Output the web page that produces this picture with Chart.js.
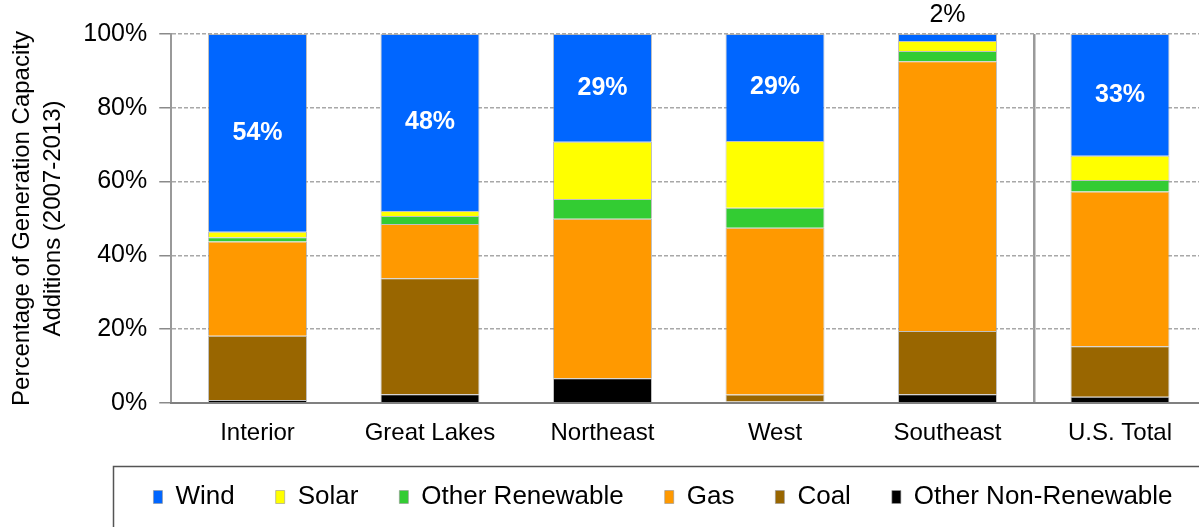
<!DOCTYPE html>
<html>
<head>
<meta charset="utf-8">
<script src="https://cdn.jsdelivr.net/npm/chart.js@4.4.1/dist/chart.umd.min.js"></script>
<style>
  html, body { margin: 0; padding: 0; background: #ffffff; overflow: hidden; width: 1199px; height: 527px; }
  #wrap { position: absolute; left: 0; top: 0; width: 1330px; height: 527px; }
</style>
</head>
<body>
<div id="wrap"><canvas id="c" width="1330" height="527"></canvas></div>
<script>
// ---- Data (percent of generation capacity additions, 2007-2013) ----
const categories = ['Interior', 'Great Lakes', 'Northeast', 'West', 'Southeast', 'U.S. Total'];
const otherNonRenewable = [0.8, 2.4, 6.7, 0.4, 2.4, 1.7];
const coal              = [17.4, 31.4, 0.0, 1.9, 17.1, 13.7];
const gas               = [25.6, 14.7, 43.2, 45.2, 73.1, 41.9];
const otherRenewable    = [1.1, 2.2, 5.4, 5.4, 2.8, 3.1];
const solar             = [1.5, 1.3, 15.5, 18.1, 2.7, 6.6];
const wind              = [53.6, 48.0, 29.2, 29.0, 1.9, 33.0];
const yTickValues       = [0, 20, 40, 60, 80, 100];
const yTitle = ['Percentage of Generation Capacity', 'Additions (2007-2013)'];

const FONT = "'Liberation Sans', Arial, Helvetica, sans-serif";

const windLabelPlugin = {
  id: 'windLabels',
  afterDatasetsDraw(chart) {
    const idx = chart.data.datasets.findIndex(d => d.label === 'Wind');
    const meta = chart.getDatasetMeta(idx);
    const ctx = chart.ctx;
    ctx.save();
    ctx.textAlign = 'center';
    ctx.textBaseline = 'middle';
    meta.data.forEach((bar, i) => {
      const v = chart.data.datasets[idx].data[i];
      const txt = Math.round(v) + '%';
      const h = Math.abs(bar.base - bar.y);
      if (h > 40) {
        ctx.fillStyle = '#ffffff';
        ctx.font = 'bold 25px ' + FONT;
        ctx.fillText(txt, bar.x, (bar.y + bar.base) / 2);
      } else {
        ctx.fillStyle = '#000000';
        ctx.font = '25px ' + FONT;
        ctx.fillText(txt, bar.x, bar.y - 19);
      }
    });
    ctx.restore();
  }
};

const legendFramePlugin = {
  id: 'legendFrame',
  afterDraw(chart) {
    const ctx = chart.ctx;
    const lg = chart.legend;
    ctx.save();
    ctx.strokeStyle = '#555555';
    ctx.lineWidth = 1.5;
    ctx.strokeRect(113.5, lg.top + 23.5, 1400, 200);
    ctx.restore();
  }
};

const datasets = [
  { label: 'Other Non-Renewable', data: otherNonRenewable, backgroundColor: '#000000' },
  { label: 'Coal', data: coal, backgroundColor: '#996600' },
  { label: 'Gas', data: gas, backgroundColor: '#FF9900' },
  { label: 'Other Renewable', data: otherRenewable, backgroundColor: '#33CC33' },
  { label: 'Solar', data: solar, backgroundColor: '#FFFF00' },
  { label: 'Wind', data: wind, backgroundColor: '#0066FF' }
].map(d => Object.assign(d, {
  borderColor: 'rgba(150,150,150,0.6)',
  borderWidth: 1,
  barPercentage: 0.574,
  categoryPercentage: 1.0
}));

new Chart(document.getElementById('c'), {
  type: 'bar',
  data: { labels: categories, datasets: datasets },
  options: {
    responsive: false,
    animation: false,
    devicePixelRatio: 1,
    layout: { padding: { left: 0, right: 4, top: 34, bottom: 7 } },
    plugins: {
      tooltip: { enabled: false },
      legend: {
        position: 'bottom',
        reverse: true,
        maxHeight: 84,
        labels: {
          boxWidth: 9,
          boxHeight: 13,
          padding: 41,
          color: '#000000',
          font: { family: FONT, size: 26 }
        }
      }
    },
    scales: {
      x: {
        stacked: true,
        offset: true,
        grid: {
          display: true,
          drawTicks: false,
          offset: true,
          lineWidth: 2.5,
          color: (c) => (c.index === 5 ? '#9a9a9a' : 'rgba(0,0,0,0)')
        },
        border: { display: true, color: '#808080', width: 2, dash: [], z: 1 },
        ticks: {
          color: '#000000',
          padding: 16,
          font: { family: FONT, size: 24 }
        },
        afterFit(s) { s.height = 40; }
      },
      y: {
        stacked: true,
        min: 0,
        max: 100,
        afterBuildTicks(s) { s.ticks = yTickValues.map(v => ({ value: v })); },
        grid: {
          color: '#a8a8a8',
          lineWidth: 1.5,
          tickColor: '#8a8a8a',
          tickLength: 12,
          tickWidth: 1.5,
          tickBorderDash: []
        },
        border: { display: true, color: '#999999', width: 2, dash: [4, 2] },
        ticks: {
          color: '#000000',
          padding: 12,
          font: { family: FONT, size: 25 },
          callback: (v) => v + '%'
        },
        title: {
          display: true,
          text: yTitle,
          color: '#000000',
          font: { family: FONT, size: 24, lineHeight: 1.3 },
          padding: { top: 7, bottom: 0 }
        },
        afterFit(s) { s.width = 171.25; }
      },
      y2: {
        position: 'right',
        display: true,
        min: 0,
        max: 100,
        grid: { display: false, drawTicks: false },
        border: { display: false },
        ticks: { display: false },
        afterFit(s) { s.width = 119.75; }
      }
    }
  },
  plugins: [windLabelPlugin, legendFramePlugin]
});
</script>
</body>
</html>
